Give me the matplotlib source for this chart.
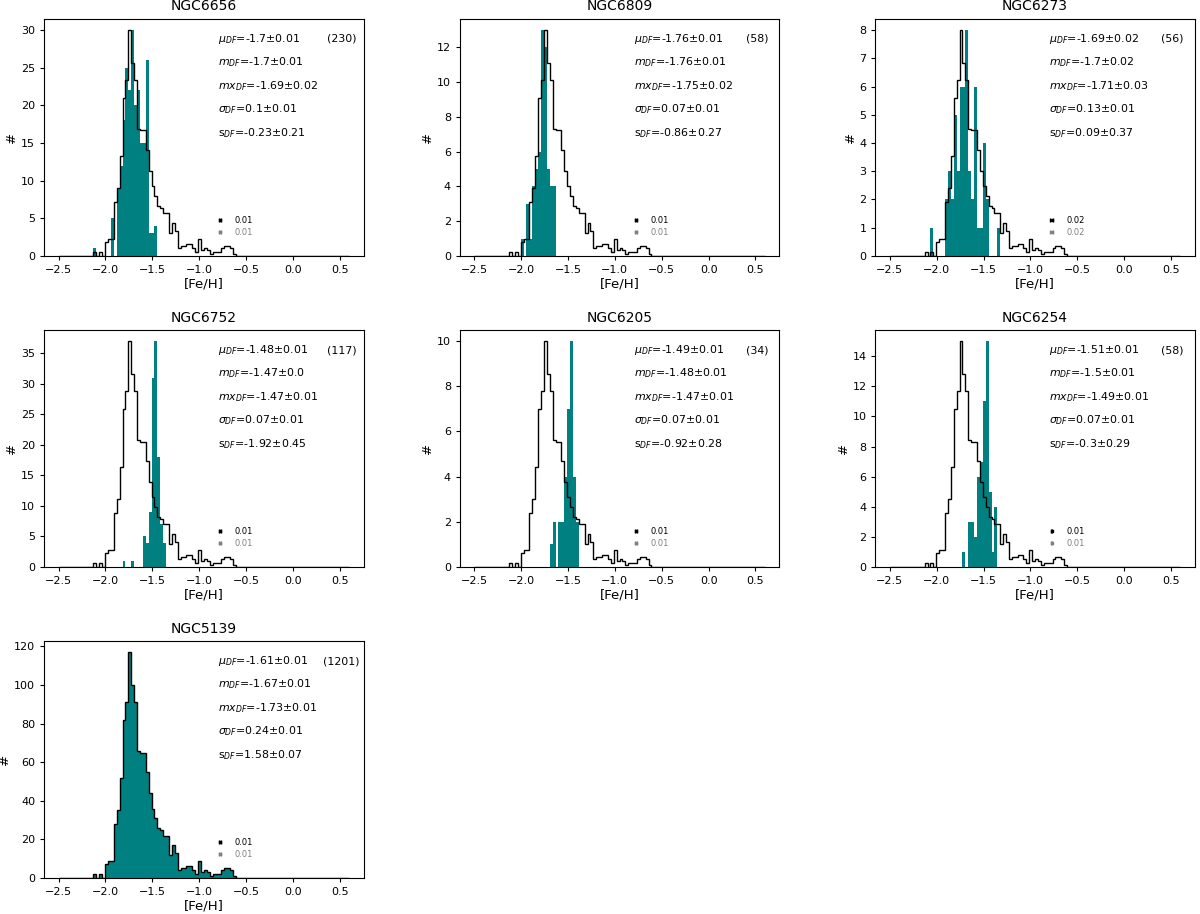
import numpy as np
import matplotlib
matplotlib.use('Agg')
import matplotlib.pyplot as plt
from matplotlib.transforms import blended_transform_factory

# bins in [Fe/H]
edges = np.linspace(-2.5, 0.6, 101)
centers = 0.5 * (edges[:-1] + edges[1:])

# omega Cen (NGC5139) counts, used as reference outline in every panel
ref_start = 12
ref_counts = [2, 0, 2, 0, 7, 9, 9, 28, 35, 52, 82, 91, 117, 100, 91, 66, 65, 65,
              55, 44, 36, 31, 26, 25, 22, 22, 12, 17, 13, 4, 5, 5, 6, 6, 4, 2, 9,
              3, 4, 3, 1, 2, 2, 2, 4, 5, 5, 4, 1]

names = ['NGC6656', 'NGC6809', 'NGC6273', 'NGC6752', 'NGC6205', 'NGC6254', 'NGC5139']
starts = [12, 16, 14, 22, 26, 25, 12]
counts = [
    [1, 0, 0, 0, 0, 0, 5, 0, 9, 12, 18, 25, 22, 30, 20, 22, 15, 15, 26, 3, 3, 4],
    [1, 0, 3, 1, 4, 5, 6, 13, 12, 5, 4, 4],
    [1, 0, 0, 0, 0, 2, 3, 2, 5, 3, 6, 6, 8, 3, 2, 6, 1, 1, 4, 2, 0, 0, 0, 1],
    [1, 0, 0, 1, 0, 0, 0, 5, 4, 9, 31, 37, 18, 7, 4],
    [1, 2, 0, 2, 2, 4, 7, 10, 4, 2],
    [1, 0, 3, 3, 2, 6, 7, 11, 15, 5, 1, 4],
    ref_counts,
]
n_stars = [230, 58, 56, 117, 34, 58, 1201]

mu = ['-1.7±0.01', '-1.76±0.01', '-1.69±0.02', '-1.48±0.01', '-1.49±0.01', '-1.51±0.01', '-1.61±0.01']
med = ['-1.7±0.01', '-1.76±0.01', '-1.7±0.02', '-1.47±0.0', '-1.48±0.01', '-1.5±0.01', '-1.67±0.01']
mx = ['-1.69±0.02', '-1.75±0.02', '-1.71±0.03', '-1.47±0.01', '-1.47±0.01', '-1.49±0.01', '-1.73±0.01']
sig = ['0.1±0.01', '0.07±0.01', '0.13±0.01', '0.07±0.01', '0.07±0.01', '0.07±0.01', '0.24±0.01']
skew = ['-0.23±0.21', '-0.86±0.27', '0.09±0.37', '-1.92±0.45', '-0.92±0.28', '-0.3±0.29', '1.58±0.07']
err_black = [0.01, 0.01, 0.02, 0.01, 0.01, 0.01, 0.01]
err_grey = [0.01, 0.01, 0.02, 0.01, 0.01, 0.01, 0.01]


def full(start, vals):
    w = np.zeros(len(centers))
    w[start:start + len(vals)] = vals
    return w


ref = full(ref_start, ref_counts)

fig, axes = plt.subplots(3, 3, figsize=(12, 9.14), dpi=100)
plt.subplots_adjust(left=0.0367, right=0.9958, bottom=0.0394, top=0.9794,
                    wspace=0.3, hspace=0.312)

for i, ax in enumerate(axes.flat):
    if i >= len(names):
        ax.axis('off')
        continue
    w = full(starts[i], counts[i])
    ax.hist(centers, bins=edges, weights=w, color='#008080')
    # outline of NGC5139 scaled to this cluster's peak
    scale = w.max() / ref.max()
    ax.hist(centers, bins=edges, weights=ref * scale, histtype='step',
            color='k', lw=1.0)

    ax.set_title(names[i], fontsize=10)
    ax.set_xlabel('[Fe/H]', fontsize=9.5, labelpad=2)
    ax.set_ylabel('#', fontsize=9.5, labelpad=2)
    ax.tick_params(labelsize=8, length=2.8)

    lines = ['$\\mu_{DF}$=' + mu[i], '$m_{DF}$=' + med[i], '$mx_{DF}$=' + mx[i],
             '$\\sigma_{DF}$=' + sig[i], 's$_{DF}$=' + skew[i]]
    for j, s in enumerate(lines):
        ax.text(0.545, 0.915 - 0.099 * j, s, transform=ax.transAxes,
                fontsize=7.9, va='center', ha='left')
    ax.text(0.93, 0.915, '(%d)' % n_stars[i], transform=ax.transAxes,
            fontsize=7.9, va='center', ha='center')

    tr = blended_transform_factory(ax.transData, ax.transAxes)
    ax.errorbar([-0.775], [0.15], xerr=[err_black[i]], fmt='s', ms=2.0,
                color='k', capsize=1.5, elinewidth=0.8, transform=tr)
    ax.errorbar([-0.775], [0.10], xerr=[err_grey[i]], fmt='s', ms=2.0,
                color='grey', capsize=1.5, elinewidth=0.8, transform=tr)
    ax.text(-0.62, 0.15, '%.2f' % err_black[i], transform=tr, fontsize=6,
            va='center', ha='left', color='k')
    ax.text(-0.62, 0.10, '%.2f' % err_grey[i], transform=tr, fontsize=6,
            va='center', ha='left', color='grey')

plt.savefig('out.png', dpi=100)
